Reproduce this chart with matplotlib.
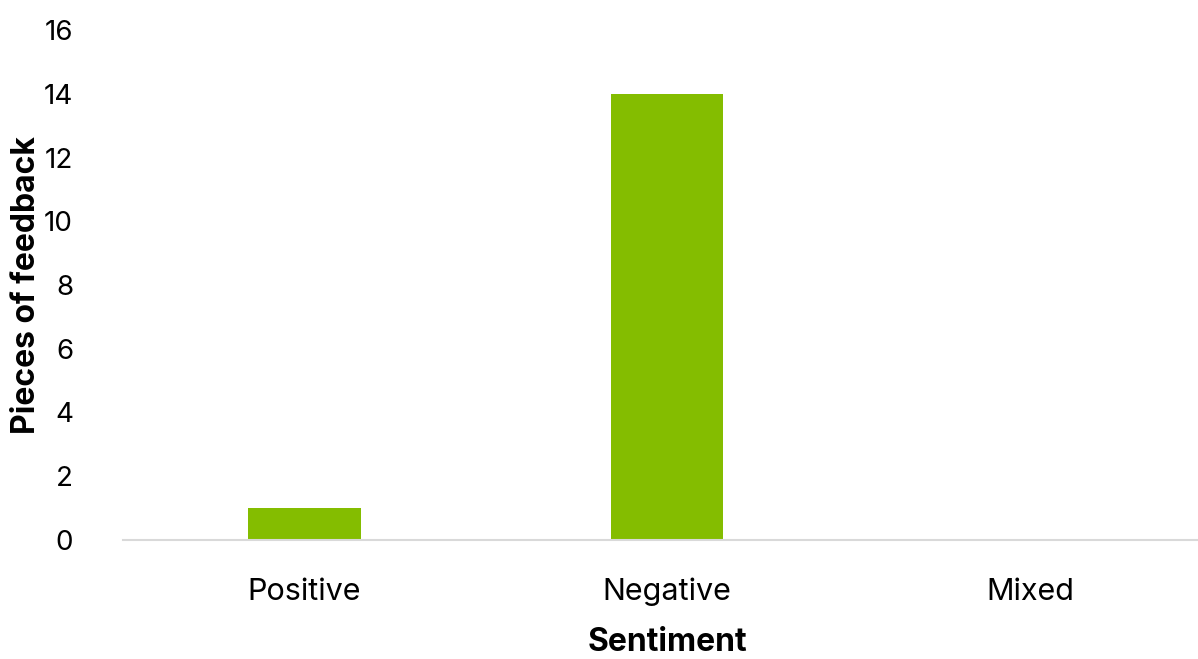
import matplotlib.pyplot as plt

# Data
categories = ["Positive", "Negative", "Mixed"]
feedback_counts = [1, 14, 0]
y_ticks = [0, 2, 4, 6, 8, 10, 12, 14, 16]

BAR_COLOR = "#84BD00"
FONT = ["Inter", "DejaVu Sans"]

plt.rcParams["font.family"] = FONT

fig = plt.figure(figsize=(11.98, 6.59), dpi=100)
# axes: left at x=123px, bottom at y=540px, top at y=30px; right edge runs past figure
ax_w = 1211.5 - 123
ax_h = 540 - 30
ax = fig.add_axes([123 / 1198, (659 - 540) / 659, ax_w / 1198, ax_h / 659])

x = range(len(categories))
ax.bar(x, feedback_counts, width=0.31, color=BAR_COLOR)

ax.set_xlim(-0.5, 2.5)
ax.set_ylim(0, 16)
ax.set_yticks(y_ticks)
ax.set_xticks(list(x))
ax.set_xticklabels(categories)

for side in ["top", "right", "left"]:
    ax.spines[side].set_visible(False)
ax.spines["bottom"].set_color("#d9d9d9")
ax.spines["bottom"].set_linewidth(1.5)

ax.tick_params(axis="y", length=0, pad=36, labelsize=20)
ax.tick_params(axis="x", length=0, pad=27, labelsize=22)

ax.set_xlabel("Sentiment", fontsize=23, fontweight="bold")
ax.set_ylabel("Pieces of feedback", fontsize=23, fontweight="bold")
ax.xaxis.set_label_coords((667 - 123) / ax_w, -(627 - 540) / ax_h)
ax.yaxis.set_label_coords((42 - 123) / ax_w, 0.5)

fig.savefig("out.png", dpi=100)
